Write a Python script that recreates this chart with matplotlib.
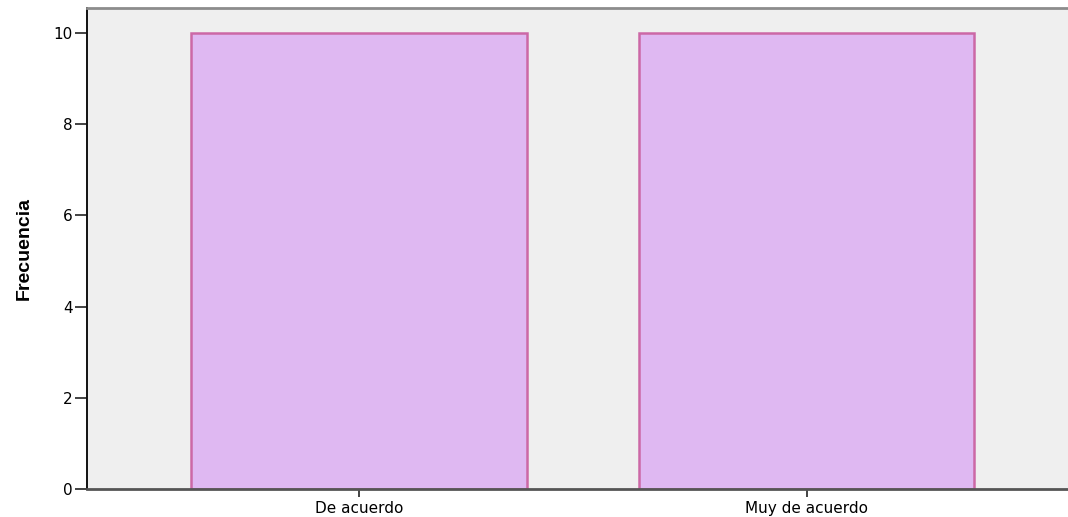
import matplotlib
matplotlib.use('Agg')
import matplotlib.pyplot as plt

categorias = ['De acuerdo', 'Muy de acuerdo']
frecuencias = [10, 10]
yticks = [0, 2, 4, 6, 8, 10]

plt.rcParams['font.family'] = ['DejaVu Sans']

fig = plt.figure(figsize=(10.68, 5.17), dpi=100)
ax = fig.add_axes([86.5 / 1068, 28 / 517, 1 - 86.5 / 1068, (489 - 8) / 517])
ax.set_facecolor('#efefef')

x = list(range(len(categorias)))
ax.bar(x, frecuencias, width=0.75, color='#dfb8f2', edgecolor='#cc68a6', linewidth=1.8, zorder=2)

ax.set_xlim(-0.609, 1.584)
ax.set_ylim(0, 10.55)
ax.set_xticks(x)
ax.set_xticklabels(categorias, fontsize=11)
ax.set_yticks(yticks)
ax.set_yticklabels([str(v) for v in yticks], fontsize=11)
ax.tick_params(axis='y', length=9, width=1.2, pad=1, color='#222222')
ax.tick_params(axis='x', length=6, width=1.2, pad=2.5, color='#222222')

ax.spines['right'].set_visible(False)
ax.spines['left'].set_color('#111111')
ax.spines['left'].set_linewidth(1.4)
ax.spines['bottom'].set_color('#555555')
ax.spines['bottom'].set_linewidth(2)
ax.spines['top'].set_color('#8c8c8c')
ax.spines['top'].set_linewidth(2)
for s in ax.spines.values():
    s.set_zorder(3)

ax.set_ylabel('Frecuencia', fontsize=14, fontweight='bold', family='Liberation Sans')
ax.yaxis.set_label_coords(-0.055, 0.5)

fig.savefig('out.png', dpi=100)
